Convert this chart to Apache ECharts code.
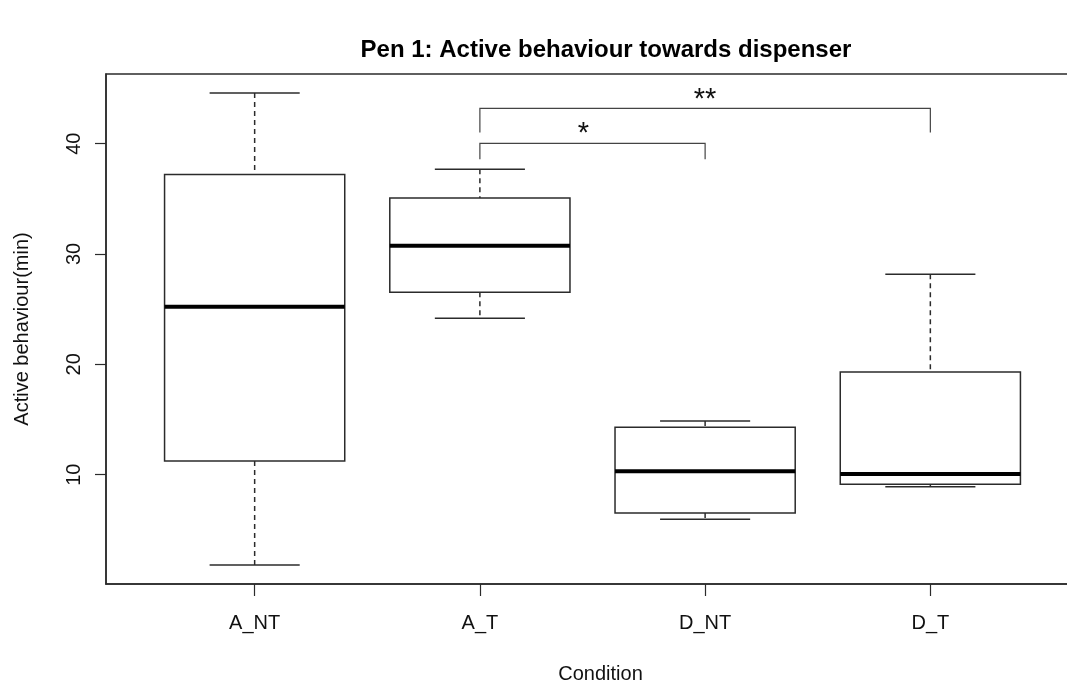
<!DOCTYPE html>
<html>
<head>
<meta charset="utf-8">
<title>Pen 1: Active behaviour towards dispenser</title>
<script src="https://cdn.jsdelivr.net/npm/echarts@6/dist/echarts.min.js"></script>
<style>
  html, body { margin: 0; padding: 0; background: #fff; }
  #chart { width: 1067px; height: 682px; }
</style>
</head>
<body>
<div id="chart"></div>
<script>
// Conditions on the x axis
const categories = ['A_NT', 'A_T', 'D_NT', 'D_T'];

// Five-number summaries per condition (minutes)
const whiskerLow  = [1.8, 24.17, 5.95, 8.9];
const quartile1   = [11.24, 26.52, 6.52, 9.12];
const medians     = [25.22, 30.75, 10.3, 10.06];
const quartile3   = [37.2, 35.07, 14.29, 19.3];
const whiskerHigh = [44.6, 37.67, 14.86, 28.16];

// Y axis tick values
const yTicks = [10, 20, 30, 40];

// Significance brackets between conditions (1-based positions)
const bracketFrom = [2, 2];
const bracketTo   = [3, 4];
const bracketLeg  = [38.58, 41.02];
const bracketTop  = [40.03, 43.2];
const bracketText = ['*', '**'];
const bracketTextX = [2.46, 3];
const bracketTextY = [40.9, 44.0];

// Axis limits: data range padded by 4% as in base graphics
const yRange = Math.max(...whiskerHigh) - Math.min(...whiskerLow);
const yMin = Math.min(...whiskerLow) - 0.04 * yRange;
const yMax = Math.max(...whiskerHigh) + 0.04 * yRange;
const xMin = 0.5 - 0.04 * categories.length;
const xMax = categories.length + 0.5 + 0.04 * categories.length;

const FONT = '"Liberation Sans", Arial, sans-serif';
const LINE = '#2b2b2b';

const boxData = categories.map((c, i) => [i + 1, whiskerLow[i], quartile1[i], medians[i], quartile3[i], whiskerHigh[i]]);
const bracketData = bracketFrom.map((f, i) => [f, bracketTo[i], bracketLeg[i], bracketTop[i], bracketTextX[i], bracketTextY[i]]);

function renderBox(params, api) {
  const x = api.value(0);
  const lo = api.value(1), q1 = api.value(2), med = api.value(3), q3 = api.value(4), hi = api.value(5);
  const boxHalf = 0.4, capHalf = 0.2;
  const pTL = api.coord([x - boxHalf, q3]);
  const pBR = api.coord([x + boxHalf, q1]);
  const pMedL = api.coord([x - boxHalf, med]);
  const pMedR = api.coord([x + boxHalf, med]);
  const pHi = api.coord([x, hi]);
  const pQ3 = api.coord([x, q3]);
  const pQ1 = api.coord([x, q1]);
  const pLo = api.coord([x, lo]);
  const capHiL = api.coord([x - capHalf, hi]);
  const capHiR = api.coord([x + capHalf, hi]);
  const capLoL = api.coord([x - capHalf, lo]);
  const capLoR = api.coord([x + capHalf, lo]);
  const solid = { stroke: LINE, lineWidth: 1.5, fill: null };
  const dashed = { stroke: LINE, lineWidth: 1.5, fill: null, lineDash: [5, 4] };
  return {
    type: 'group',
    children: [
      { type: 'line', shape: { x1: pHi[0], y1: pHi[1], x2: pQ3[0], y2: pQ3[1] }, style: dashed },
      { type: 'line', shape: { x1: pQ1[0], y1: pQ1[1], x2: pLo[0], y2: pLo[1] }, style: dashed },
      { type: 'line', shape: { x1: capHiL[0], y1: capHiL[1], x2: capHiR[0], y2: capHiR[1] }, style: solid },
      { type: 'line', shape: { x1: capLoL[0], y1: capLoL[1], x2: capLoR[0], y2: capLoR[1] }, style: solid },
      { type: 'rect', shape: { x: pTL[0], y: pTL[1], width: pBR[0] - pTL[0], height: pBR[1] - pTL[1] },
        style: { stroke: LINE, lineWidth: 1.5, fill: '#fff' } },
      { type: 'line', shape: { x1: pMedL[0], y1: pMedL[1], x2: pMedR[0], y2: pMedR[1] },
        style: { stroke: '#000', lineWidth: 4 } }
    ]
  };
}

function renderBracket(params, api) {
  const from = api.value(0), to = api.value(1), leg = api.value(2), top = api.value(3);
  const tx = api.value(4), ty = api.value(5);
  const a = api.coord([from, leg]);
  const b = api.coord([from, top]);
  const c = api.coord([to, top]);
  const d = api.coord([to, leg]);
  const t = api.coord([tx, ty]);
  return {
    type: 'group',
    children: [
      { type: 'polyline', shape: { points: [a, b, c, d] },
        style: { stroke: '#444', lineWidth: 1.2, fill: null } },
      { type: 'text', x: t[0], y: t[1],
        style: { text: bracketText[params.dataIndex], fill: '#111', font: '29px ' + FONT,
                 textAlign: 'center', textVerticalAlign: 'middle' } }
    ]
  };
}

const chart = echarts.init(document.getElementById('chart'), null, { renderer: 'canvas' });
chart.setOption({
  backgroundColor: '#fff',
  animation: false,
  title: {
    text: 'Pen 1: Active behaviour towards dispenser',
    left: 601,
    textAlign: 'center',
    top: 33,
    textStyle: { fontFamily: FONT, fontSize: 24, fontWeight: 'bold', color: '#000' }
  },
  grid: {
    // plot frame; its right edge runs just past the page
    left: 106, right: -12, top: 74, bottom: 98,
    outerBoundsMode: 'none',
    containLabel: false,
    show: true, borderColor: LINE, borderWidth: 1.5, backgroundColor: 'transparent'
  },
  xAxis: {
    type: 'value',
    min: xMin, max: xMax,
    name: 'Condition',
    nameLocation: 'middle',
    nameGap: 80,
    nameTextStyle: { fontFamily: FONT, fontSize: 20, color: '#111', padding: [0, 0, 0, 16] },
    axisLine: { show: true, onZero: false, lineStyle: { color: LINE, width: 1.5 } },
    axisTick: { show: true, customValues: [1, 2, 3, 4], length: 12, lineStyle: { color: LINE, width: 1.2 } },
    axisLabel: {
      customValues: [1, 2, 3, 4],
      formatter: v => categories[Math.round(v) - 1] || '',
      margin: 29,
      fontFamily: FONT, fontSize: 20, color: '#111'
    },
    splitLine: { show: false }
  },
  yAxis: {
    type: 'value',
    min: yMin, max: yMax,
    name: 'Active behaviour(min)',
    nameLocation: 'middle',
    nameGap: 74,
    nameTextStyle: { fontFamily: FONT, fontSize: 20, color: '#111' },
    axisLine: { show: true, onZero: false, lineStyle: { color: LINE, width: 1.5 } },
    axisTick: { show: true, customValues: yTicks, length: 11, lineStyle: { color: LINE, width: 1.2 } },
    axisLabel: {
      customValues: yTicks,
      rotate: 90,
      margin: 22,
      fontFamily: FONT, fontSize: 20, color: '#111'
    },
    splitLine: { show: false }
  },
  series: [
    {
      type: 'custom',
      name: 'boxes',
      renderItem: renderBox,
      encode: { x: 0, y: [1, 2, 3, 4, 5] },
      data: boxData,
      z: 2
    },
    {
      type: 'custom',
      name: 'brackets',
      renderItem: renderBracket,
      encode: { x: [0, 1], y: [2, 3] },
      data: bracketData,
      z: 3
    }
  ]
});
</script>
</body>
</html>
